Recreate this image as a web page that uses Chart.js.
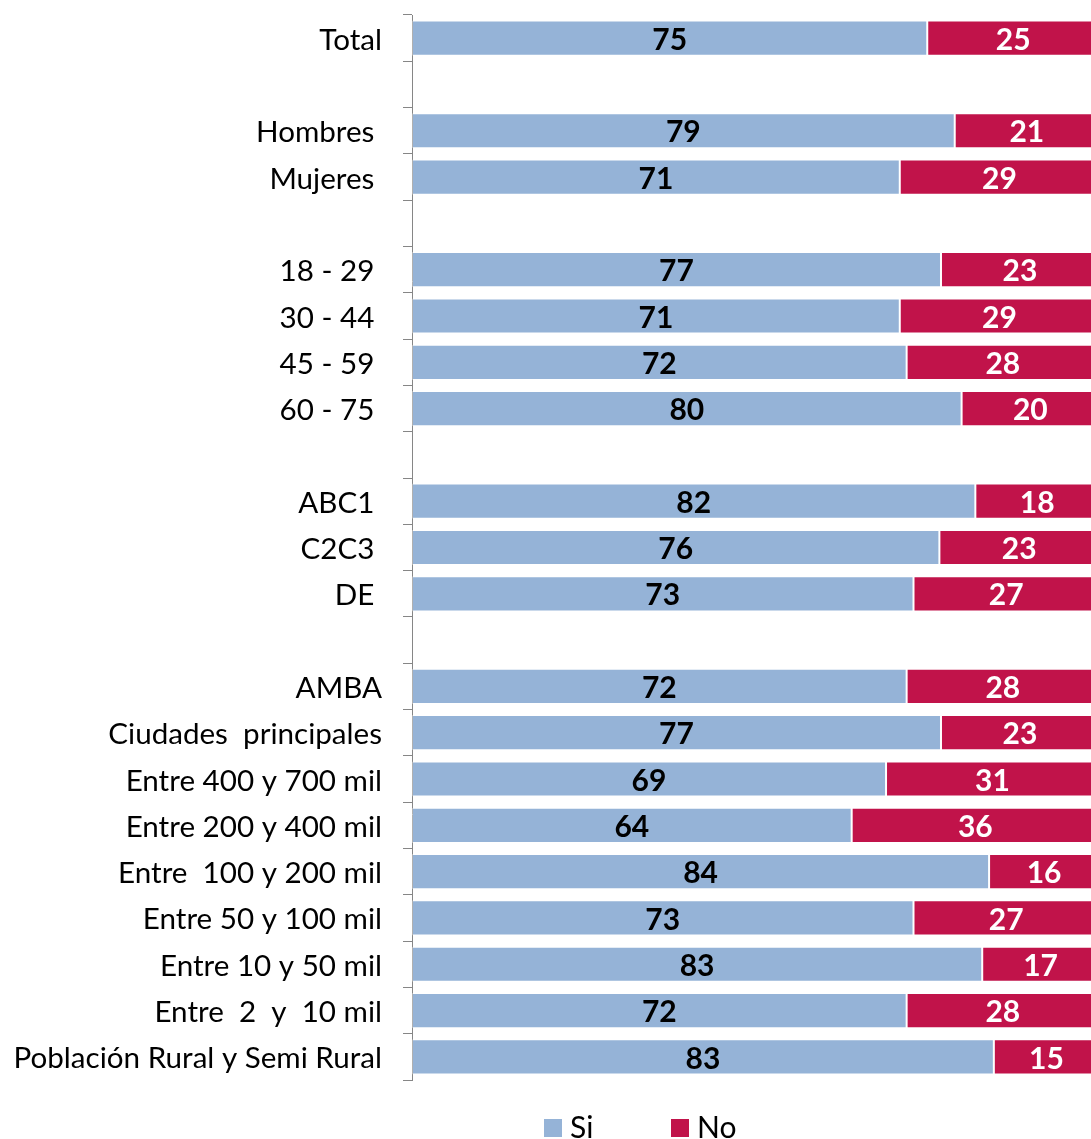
<!DOCTYPE html>
<html>
<head>
<meta charset="utf-8">
<title>Si / No</title>
<script src="https://cdn.jsdelivr.net/npm/chart.js@4/dist/chart.umd.min.js"></script>
<style>
    html, body { margin: 0; padding: 0; background: #ffffff; overflow: hidden; }
    #wrap { position: relative; width: 1099px; height: 1139px; }
</style>
</head>
<body>
<div id="wrap"><canvas id="siNoChart"></canvas></div>
<script>
// empty strings are the spacer rows between groups
const categories = [
    "Total", "",
    "Hombres ", "Mujeres ", "",
    "18 - 29 ", "30 - 44 ", "45 - 59 ", "60 - 75 ", "",
    "ABC1 ", "C2C3 ", "DE ", "",
    "AMBA", "Ciudades  principales", "Entre 400 y 700 mil", "Entre 200 y 400 mil",
    "Entre  100 y 200 mil", "Entre 50 y 100 mil", "Entre 10 y 50 mil",
    "Entre  2  y  10 mil", "Población Rural y Semi Rural"
];

const siValues = [75, null, 79, 71, null, 77, 71, 72, 80, null, 82, 76, 73, null,
    72, 77, 69, 64, 84, 73, 83, 72, 83];
const noValues = [25, null, 21, 29, null, 23, 29, 28, 20, null, 18, 23, 27, null,
    28, 23, 31, 36, 16, 27, 17, 28, 15];

const seriesNames = ["Si", "No"];
const seriesColors = ["#95B3D7", "#C1134A"];
const valueLabelColors = ["#000000", "#FFFFFF"];

const FONT = "Lato, Carlito, Calibri, sans-serif";

// bars are stacked to 100 %: each part is drawn as its share of the row total
function shareOf(part, other) {
    if (part == null) return null;
    return part / (part + other) * 100;
}

const siShare = siValues.map((v, i) => shareOf(v, noValues[i]));
const noShare = noValues.map((v, i) => shareOf(v, siValues[i]));
const rawValues = [siValues, noValues];

// writes the stated value in the middle of every segment
const valueLabels = {
    id: "valueLabels",
    afterDatasetsDraw(chart) {
        const ctx = chart.ctx;
        ctx.save();
        ctx.font = "bold 30px " + FONT;
        ctx.textAlign = "center";
        ctx.textBaseline = "middle";
        chart.data.datasets.forEach((ds, d) => {
            const meta = chart.getDatasetMeta(d);
            meta.data.forEach((bar, i) => {
                const v = rawValues[d][i];
                if (v == null) return;
                const c = bar.getCenterPoint();
                ctx.fillStyle = valueLabelColors[d];
                ctx.fillText(String(v), c.x, c.y + 2);
            });
        });
        ctx.restore();
    }
};

// legend row under the plot
const bottomLegend = {
    id: "bottomLegend",
    afterDraw(chart) {
        const ctx = chart.ctx;
        const box = 18;
        const top = chart.chartArea.bottom + 39;
        let x = 544;
        ctx.save();
        ctx.font = "30px " + FONT;
        ctx.textBaseline = "middle";
        ctx.textAlign = "left";
        chart.data.datasets.forEach((ds) => {
            ctx.fillStyle = ds.backgroundColor;
            ctx.fillRect(x, top, box, box);
            ctx.fillStyle = "#000000";
            ctx.fillText(ds.label, x + box + 8, top + box / 2);
            x += 127;
        });
        ctx.restore();
    }
};

new Chart(document.getElementById("siNoChart"), {
    type: "bar",
    data: {
        labels: categories,
        datasets: [
            {
                label: seriesNames[0],
                data: siShare,
                backgroundColor: seriesColors[0],
                borderColor: "rgba(255,255,255,0.35)",
                borderWidth: 1,
                borderSkipped: false
            },
            {
                label: seriesNames[1],
                data: noShare,
                backgroundColor: seriesColors[1],
                borderColor: "rgba(255,255,255,0.35)",
                borderWidth: 1,
                borderSkipped: false
            }
        ]
    },
    options: {
        indexAxis: "y",
        responsive: true,
        maintainAspectRatio: false,
        animation: false,
        layout: {
            padding: { top: 15, bottom: 59, left: 0, right: 0 }
        },
        datasets: {
            bar: {
                categoryPercentage: 1,
                barPercentage: 0.76
            }
        },
        scales: {
            x: {
                display: false,
                stacked: true,
                min: 0,
                max: 100
            },
            y: {
                stacked: true,
                afterFit(scale) {
                    scale.width = 412;
                    scale.paddingTop = 0;
                    scale.paddingBottom = 0;
                },
                grid: {
                    offset: true,
                    drawOnChartArea: false,
                    drawTicks: true,
                    tickLength: 9,
                    color: "#868686"
                },
                border: {
                    display: true,
                    color: "#868686",
                    width: 1
                },
                ticks: {
                    padding: 21,
                    labelOffset: 2,
                    color: "#000000",
                    autoSkip: false,
                    font: { family: FONT, size: 29.6 }
                }
            }
        },
        plugins: {
            legend: { display: false },
            tooltip: { enabled: false }
        }
    },
    plugins: [valueLabels, bottomLegend]
});
</script>
</body>
</html>
